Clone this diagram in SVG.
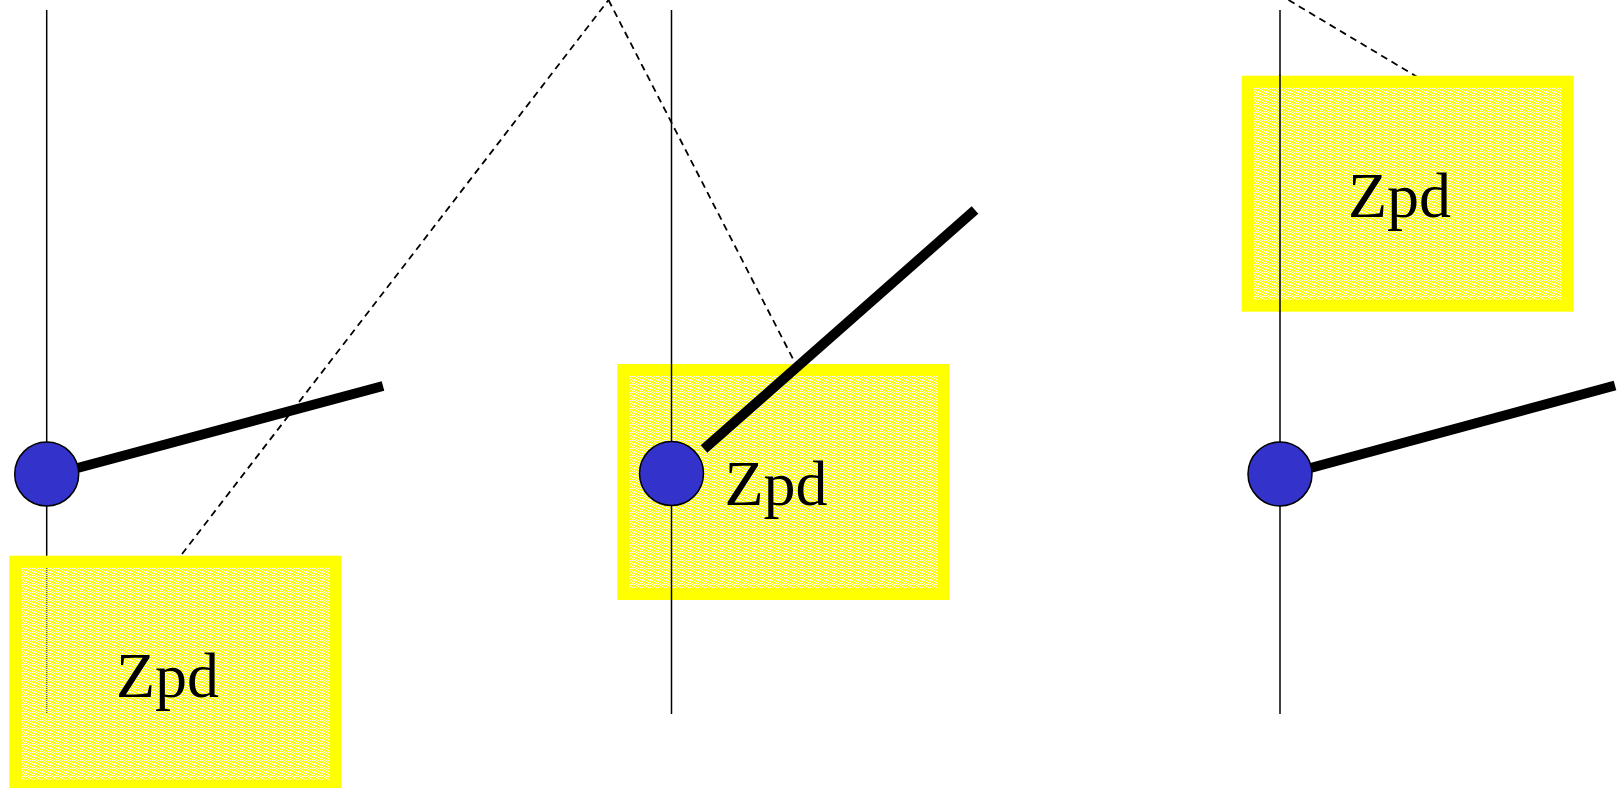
<svg xmlns="http://www.w3.org/2000/svg" width="1623" height="788" viewBox="0 0 1623 788">
<defs>
<pattern id="tex" x="0" y="0" width="8" height="8" patternUnits="userSpaceOnUse">
<rect width="8" height="8" fill="#ffff00"/>
<g fill="#ffffff">
<rect x="0" y="0" width="1" height="1"/><rect x="2" y="0" width="1" height="1"/><rect x="5" y="0" width="2" height="1"/>
<rect x="1" y="1" width="1" height="1"/><rect x="4" y="1" width="1" height="1"/><rect x="7" y="1" width="1" height="1"/>
<rect x="3" y="2" width="1" height="1"/><rect x="6" y="2" width="1" height="1"/>
<rect x="0" y="3" width="1" height="1"/><rect x="2" y="3" width="1" height="1"/><rect x="5" y="3" width="1" height="1"/>
<rect x="1" y="4" width="2" height="1"/><rect x="4" y="4" width="1" height="1"/><rect x="7" y="4" width="1" height="1"/>
<rect x="3" y="5" width="1" height="1"/><rect x="6" y="5" width="1" height="1"/>
<rect x="0" y="6" width="1" height="1"/><rect x="2" y="6" width="1" height="1"/><rect x="5" y="6" width="1" height="1"/>
<rect x="1" y="7" width="1" height="1"/><rect x="4" y="7" width="1" height="1"/><rect x="7" y="7" width="1" height="1"/>
</g>
</pattern>
</defs>
<style>
.axis{stroke:#000;stroke-width:1.5;fill:none}
.arm{stroke:#000;stroke-width:10;fill:none;stroke-linecap:butt}
.dash{stroke:#000;stroke-width:1.8;stroke-dasharray:7,5;fill:none}
.box{fill:url(#tex);stroke:#ffff00;stroke-width:12}
.ball{fill:#3333cc;stroke:#000;stroke-width:1.5}
.lbl{font-family:"Liberation Serif","Times New Roman",serif;font-size:64px;fill:#000}
</style>
<rect width="1623" height="788" fill="#ffffff"/>
<g id="connectors">
<line class="axis" x1="46.7" y1="10" x2="46.7" y2="556"/>
<line class="axis" x1="671.5" y1="10" x2="671.5" y2="714"/>
<line class="axis" x1="1280" y1="10" x2="1280" y2="714"/>
<line class="dash" x1="182" y1="554" x2="608.5" y2="0"/>
<line class="dash" x1="608.5" y1="0" x2="793" y2="359"/>
<line class="dash" x1="1288.5" y1="0" x2="1424" y2="81"/>
</g>
<g id="box1">
<rect class="box" x="15.3" y="561.7" width="320" height="224"/>
<line x1="46.7" y1="568" x2="46.7" y2="713" stroke="#666" stroke-width="1.5" stroke-dasharray="1,1"/>
<text class="lbl" x="116" y="697">Zpd</text>
</g>
<g id="box2">
<rect class="box" x="623.3" y="370" width="320" height="224"/>
<line class="axis" x1="671.5" y1="364" x2="671.5" y2="600"/>
<text class="lbl" x="724.5" y="505">Zpd</text>
</g>
<g id="box3">
<rect class="box" x="1247.7" y="81.7" width="320" height="224"/>
<line class="axis" x1="1280" y1="75" x2="1280" y2="312"/>
<text class="lbl" x="1348" y="216.7">Zpd</text>
</g>
<g id="arm1"><line class="arm" x1="77.5" y1="468" x2="383" y2="386"/></g>
<g id="arm2"><line class="arm" x1="704" y1="449" x2="975" y2="210"/></g>
<g id="arm3"><line class="arm" x1="1310.5" y1="468" x2="1615" y2="385.5"/></g>
<g id="node1"><circle class="ball" cx="46.7" cy="474" r="32"/></g>
<g id="node2"><circle class="ball" cx="671.5" cy="473.5" r="32"/></g>
<g id="node3"><circle class="ball" cx="1280" cy="474" r="32"/></g>
</svg>
